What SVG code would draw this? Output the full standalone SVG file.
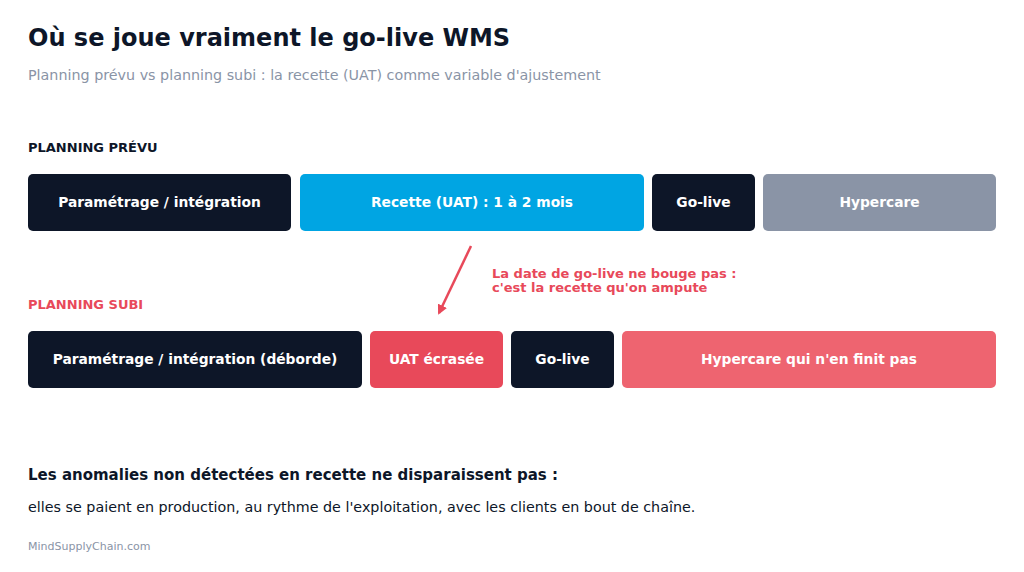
<svg xmlns="http://www.w3.org/2000/svg" width="1024" height="572" viewBox="0 0 1024 572">
<style>
text{font-family:"DejaVu Sans",sans-serif}
.b{font-weight:bold;font-size:13.8px;fill:#fff;text-anchor:middle}
.navy{fill:#0d1628}
</style>
<defs><marker id="ah" viewBox="0 0 10 10" refX="8" refY="5" markerWidth="4" markerHeight="4" orient="auto"><path d="M0,0L10,5L0,10z" fill="#e8495a"/></marker></defs>
<rect width="1024" height="572" fill="#fff"/>
<text x="28" y="46" font-size="24" font-weight="bold" fill="#0d1628">Où se joue vraiment le go-live WMS</text>
<text x="28" y="80" font-size="14.3" fill="#8a94a6">Planning prévu vs planning subi : la recette (UAT) comme variable d'ajustement</text>
<text x="28" y="152" font-size="13" font-weight="bold" fill="#0d1628">PLANNING PRÉVU</text>
<g id="p1"><rect x="28" y="174" width="263" height="57" rx="5" class="navy"/><text x="159.5" y="207" class="b">Paramétrage / intégration</text></g>
<g id="p2"><rect x="300" y="174" width="344" height="57" rx="5" fill="#00a5e3"/><text x="472" y="207" class="b">Recette (UAT) : 1 à 2 mois</text></g>
<g id="p3"><rect x="652" y="174" width="103" height="57" rx="5" class="navy"/><text x="703.5" y="207" class="b">Go-live</text></g>
<g id="p4"><rect x="763" y="174" width="233" height="57" rx="5" fill="#8a94a6"/><text x="879.5" y="207" class="b">Hypercare</text></g>
<text x="28" y="309" font-size="13" font-weight="bold" fill="#e8495a">PLANNING SUBI</text>
<g id="s1"><rect x="28" y="331" width="334" height="57" rx="5" class="navy"/><text x="195" y="364" class="b">Paramétrage / intégration (déborde)</text></g>
<g id="s2"><rect x="370" y="331" width="133" height="57" rx="5" fill="#e8495a"/><text x="436.5" y="364" class="b">UAT écrasée</text></g>
<g id="s3"><rect x="511" y="331" width="103" height="57" rx="5" class="navy"/><text x="562.5" y="364" class="b">Go-live</text></g>
<g id="s4"><rect x="622" y="331" width="374" height="57" rx="5" fill="#ee6470"/><text x="809" y="364" class="b">Hypercare qui n'en finit pas</text></g>
<g id="connectors"><line x1="471" y1="246" x2="439" y2="313" stroke="#e8495a" stroke-width="2.5" marker-end="url(#ah)"/></g>
<text x="492" y="278" font-size="13" font-weight="bold" fill="#e8495a">La date de go-live ne bouge pas :</text>
<text x="492" y="292" font-size="13" font-weight="bold" fill="#e8495a">c'est la recette qu'on ampute</text>
<text x="28" y="480" font-size="15" font-weight="bold" fill="#0d1628">Les anomalies non détectées en recette ne disparaissent pas :</text>
<text x="28" y="512" font-size="14.3" fill="#0d1628">elles se paient en production, au rythme de l'exploitation, avec les clients en bout de chaîne.</text>
<text x="28" y="550" font-size="11" fill="#8a94a6">MindSupplyChain.com</text>
</svg>
